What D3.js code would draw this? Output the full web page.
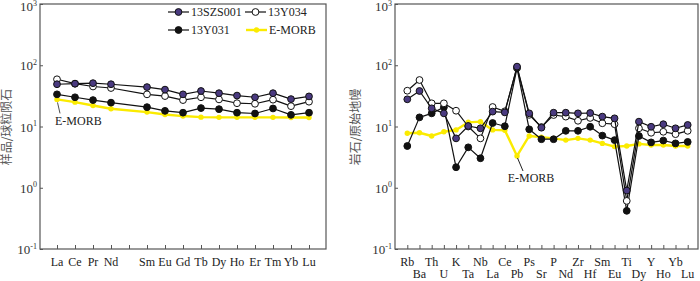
<!DOCTYPE html>
<html>
<head>
<meta charset="utf-8">
<script src="https://cdn.jsdelivr.net/npm/d3@7"></script>
<style>
  body { margin: 0; background: #fff; }
  svg { display: block; }
</style>
</head>
<body>
<svg id="chart" width="700" height="281"></svg>
<script>
// ---- data: REE chondrite-normalised (left) ----
const reeLabels = ['La', 'Ce', 'Pr', 'Nd', 'Pm', 'Sm', 'Eu', 'Gd', 'Tb', 'Dy', 'Ho', 'Er', 'Tm', 'Yb', 'Lu'];
const reeS001 = [49, 50, 51, 49, null, 44, 40, 33.5, 38, 35, 32, 30, 35, 28, 31];
const reeY034 = [59, 50, 45, 42.5, null, 33.5, 31.4, 27, 30, 27.7, 24, 23.5, 27.4, 21.5, 25.4];
const reeY031 = [33.5, 30, 27, 24.5, null, 20.7, 18, 16.8, 20, 19.2, 16.8, 16.3, 19.7, 15.5, 16.8];
const reeEmorb = [27.7, 25, 22, 19.5, null, 17.2, 15.7, 14.8, 14.2, 14.1, 14.1, 14.1, 14.1, 14.0, 14.0];

// ---- data: primitive-mantle-normalised spider (right) ----
const spiderLabels = ['Rb', 'Ba', 'Th', 'U', 'K', 'Ta', 'Nb', 'La', 'Ce', 'Pb', 'Ps', 'Sr', 'P', 'Nd', 'Zr', 'Hf', 'Sm', 'Eu', 'Ti', 'Dy', 'Y', 'Ho', 'Yb', 'Lu'];
const spS001 = [27.8, 38, 19.8, 16.4, 6.4, 10.2, 9.35, 17.5, 17.0, 95, 16.4, 9.55, 16.8, 16.8, 16.4, 16.6, 14.5, 13.6, 0.9, 12.0, 9.9, 10.9, 9.35, 10.6];
const spY034 = [38.4, 57.4, 23.9, 23.9, 18.1, 10.0, 6.4, 20.8, 17.7, 92, 15.5, 9.8, 15.4, 14.5, 12.4, 13.8, 11.3, 10.9, 0.61, 9.35, 7.9, 8.2, 7.5, 8.5];
const spY031 = [4.8, 14.1, 16.4, 20.6, 2.16, 4.57, 3.03, 11.4, 10.1, 90, 9.0, 6.2, 6.2, 8.5, 8.5, 9.9, 7.1, 6.0, 0.42, 7.0, 5.5, 5.9, 5.3, 5.6];
const spEmorb = [7.74, 7.9, 7.0, 8.2, 8.8, 11.7, 12.0, 8.8, 8.7, 3.3, 7.0, 6.7, 6.4, 6.0, 6.4, 6.0, 5.3, 4.7, 4.8, 5.2, 5.0, 5.0, 4.8, 4.8];

const yTicks = [0.1, 1, 10, 100, 1000];
const yExponents = ['-1', '0', '1', '2', '3'];

// ---- styles ----
const styles = {
  '13SZS001': { fill: '#4a3a80', stroke: '#111', r: 3.4, line: '#111', lw: 1.2 },
  '13Y034': { fill: '#fff', stroke: '#111', r: 3.4, line: '#111', lw: 1.2 },
  '13Y031': { fill: '#111', stroke: '#111', r: 3.4, line: '#111', lw: 1.2 },
  'E-MORB': { fill: '#fbeb00', stroke: 'none', r: 2.7, line: '#fbeb00', lw: 2.4 }
};

const serif = '"Liberation Serif", "Times New Roman", serif';
const cjk = '"Noto Sans CJK SC", sans-serif';
const axisColor = '#555';

const svg = d3.select('#chart');

const plotTop = 4;
const plotBottom = 249;

const y = d3.scaleLog()
  .domain([0.1, 1000])
  .range([plotBottom, plotTop]);

function drawPanel(opts) {
  const g = svg.append('g');
  const x = d3.scalePoint()
    .domain(opts.labels)
    .range(opts.range);

  // frame
  g.append('rect')
    .attr('x', opts.left)
    .attr('y', plotTop)
    .attr('width', opts.right - opts.left)
    .attr('height', plotBottom - plotTop)
    .attr('fill', 'none')
    .attr('stroke', axisColor)
    .attr('stroke-width', 1.2);

  // y ticks (inward)
  g.append('g')
    .attr('transform', `translate(${opts.left},0)`)
    .call(d3.axisLeft(y).tickValues(yTicks).tickSizeInner(-3).tickSizeOuter(0).tickFormat(''))
    .call(a => a.select('.domain').remove())
    .call(a => a.selectAll('line').attr('stroke', axisColor));

  yTicks.forEach((t, i) => {
    const txt = g.append('text')
      .attr('x', opts.left - 3)
      .attr('y', Math.max(y(t) + 5, 11))
      .attr('text-anchor', 'end')
      .attr('font-family', serif)
      .attr('font-size', 13)
      .attr('fill', '#333');
    txt.append('tspan').text('10');
    txt.append('tspan')
      .attr('dy', -5.5)
      .attr('font-size', 8)
      .text(yExponents[i]);
  });

  // x ticks (inward)
  g.append('g')
    .attr('transform', `translate(0,${plotBottom})`)
    .call(d3.axisBottom(x).tickSizeInner(-4).tickSizeOuter(0).tickFormat(''))
    .call(a => a.select('.domain').remove())
    .call(a => a.selectAll('line').attr('stroke', axisColor));

  opts.labels.forEach((l, i) => {
    if (opts.hidden.includes(l)) return;
    const row = opts.twoRows ? i % 2 : 0;
    g.append('text')
      .attr('x', x(l))
      .attr('y', row === 0 ? 266 : 278)
      .attr('text-anchor', 'middle')
      .attr('font-family', serif)
      .attr('font-size', 12)
      .attr('fill', '#222')
      .text(l);
  });

  // y title
  g.append('text')
    .attr('transform', `translate(${opts.titleX},127) rotate(-90)`)
    .attr('text-anchor', 'middle')
    .attr('font-family', cjk)
    .attr('font-size', 12)
    .attr('fill', '#555')
    .text(opts.title);

  // series: yellow first, purple last
  const order = ['E-MORB', '13Y031', '13Y034', '13SZS001'];
  order.forEach(name => {
    const s = styles[name];
    const pts = opts.labels
      .map((l, i) => ({ l, v: opts.data[name][i] }))
      .filter(d => d.v !== null);
    const line = d3.line()
      .x(d => x(d.l))
      .y(d => y(d.v));
    g.append('path')
      .datum(pts)
      .attr('fill', 'none')
      .attr('stroke', s.line)
      .attr('stroke-width', s.lw)
      .attr('stroke-linejoin', 'round')
      .attr('d', line);
    g.selectAll(null)
      .data(pts)
      .enter()
      .append('circle')
      .attr('cx', d => x(d.l))
      .attr('cy', d => y(d.v))
      .attr('r', s.r)
      .attr('fill', s.fill)
      .attr('stroke', s.stroke)
      .attr('stroke-width', 1);
  });

  return x;
}

const xLeft = drawPanel({
  labels: reeLabels,
  range: [57, 309],
  left: 40,
  right: 326,
  hidden: ['Pm'],
  twoRows: false,
  titleX: 11,
  title: '样品/球粒陨石',
  data: { '13SZS001': reeS001, '13Y034': reeY034, '13Y031': reeY031, 'E-MORB': reeEmorb }
});

const xRight = drawPanel({
  labels: spiderLabels,
  range: [407.3, 687.7],
  left: 395,
  right: 698,
  hidden: [],
  twoRows: true,
  titleX: 360,
  title: '岩石/原始地幔',
  data: { '13SZS001': spS001, '13Y034': spY034, '13Y031': spY031, 'E-MORB': spEmorb }
});

// E-MORB annotations
const laY = y(reeEmorb[0]);
svg.append('line')
  .attr('x1', xLeft('La') + 0.5).attr('y1', laY + 3)
  .attr('x2', xLeft('La') + 3).attr('y2', laY + 14)
  .attr('stroke', '#222').attr('stroke-width', 0.8);
svg.append('text')
  .attr('x', xLeft('La') - 2)
  .attr('y', laY + 26)
  .attr('font-family', serif)
  .attr('font-size', 12)
  .attr('fill', '#222')
  .text('E-MORB');

const pbY = y(spEmorb[9]);
svg.append('line')
  .attr('x1', xRight('Pb') + 0.5).attr('y1', pbY + 2)
  .attr('x2', xRight('Pb') + 6).attr('y2', pbY + 15)
  .attr('stroke', '#222').attr('stroke-width', 1);
svg.append('text')
  .attr('x', xRight('Pb') + 14)
  .attr('y', pbY + 26)
  .attr('text-anchor', 'middle')
  .attr('font-family', serif)
  .attr('font-size', 12)
  .attr('fill', '#222')
  .text('E-MORB');

// legend (left panel)
const legendItems = [
  { name: '13SZS001', x: 168, y: 12 },
  { name: '13Y034', x: 245, y: 12 },
  { name: '13Y031', x: 168, y: 30 },
  { name: 'E-MORB', x: 246, y: 30 }
];
const legend = svg.append('g');
legendItems.forEach(it => {
  const s = styles[it.name];
  legend.append('line')
    .attr('x1', it.x).attr('x2', it.x + 21)
    .attr('y1', it.y).attr('y2', it.y)
    .attr('stroke', s.line).attr('stroke-width', s.lw);
  legend.append('circle')
    .attr('cx', it.x + 10.5).attr('cy', it.y)
    .attr('r', s.r)
    .attr('fill', s.fill)
    .attr('stroke', s.stroke)
    .attr('stroke-width', 1);
  legend.append('text')
    .attr('x', it.x + 23)
    .attr('y', it.y + 4)
    .attr('font-family', serif)
    .attr('font-size', 12)
    .attr('fill', '#222')
    .text(it.name);
});
</script>
</body>
</html>
